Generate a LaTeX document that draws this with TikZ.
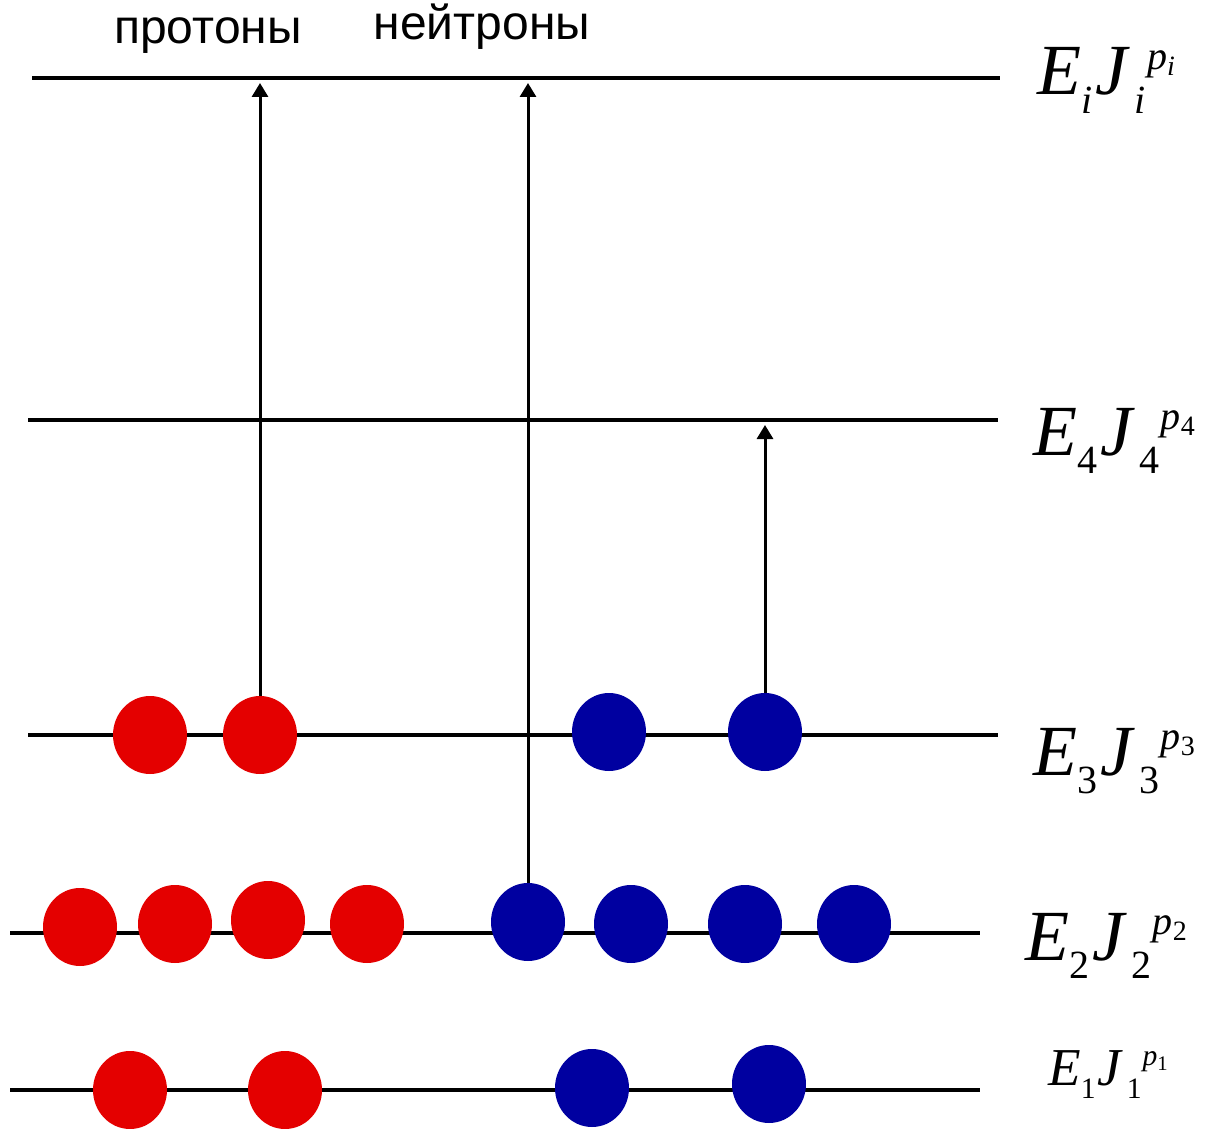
\documentclass[tikz,border=0pt]{standalone}
\usepackage{fontspec}
\setmainfont{Liberation Serif}
\newfontfamily\rusfont{Liberation Sans}
\usepackage{tikz}
\usetikzlibrary{shapes.geometric,arrows.meta}

\definecolor{protred}{RGB}{228,0,0}
\definecolor{neutblue}{RGB}{0,0,160}

% E_n J_n^{p_n}
\newcommand{\lvlname}[1]{%
  {\fontsize{36}{36}\selectfont\itshape E\raisebox{-0.26em}{\fontsize{20}{20}\selectfont #1}\kern0.04em%
  J\kern0.1em\raisebox{-0.26em}{\fontsize{20}{20}\selectfont #1}\kern0.02em%
  \raisebox{0.36em}{\fontsize{20}{20}\selectfont p\raisebox{-0.16em}{\fontsize{14}{14}\selectfont #1}}}}

\begin{document}
\begin{tikzpicture}[x=0.5pt,y=-0.5pt,
	level/.style={line width=2pt},
	jump/.style={line width=1.5pt,-{Triangle[length=7pt,width=8pt]},shorten >=2.5pt},
	nucl/.style={ellipse,minimum width=37pt,minimum height=39pt,inner sep=0pt},
	proton/.style={nucl,fill=protred},
	neutron/.style={nucl,fill=neutblue}]
	\useasboundingbox (0,0) rectangle (1206,1129);
	% levels
	\foreach \n/\xa/\xb/\y in {i/32/1000/78,4/28/998/420,3/28/998/735,2/10/980/933,1/10/980/1090}
	{
		\draw[level] (\xa,\y) coordinate (L\n w) -- (\xb,\y) coordinate (L\n e);
	}
	% protons
	\foreach \n/\x/\y in {p3a/150/735,p3b/260/735,p2a/80/927,p2b/175/924,p2c/268/920,p2d/367/924,p1a/130/1090,p1b/285/1090}
	{
		\node[proton] (\n) at (\x,\y) {};
	}
	% neutrons
	\foreach \n/\x/\y in {n3a/609/732,n3b/765/732,n2a/528/922,n2b/631/924,n2c/745/924,n2d/854/924,n1a/592/1088,n1b/769/1084}
	{
		\node[neutron] (\n) at (\x,\y) {};
	}
	% excitations
	\draw[jump] (p3b.north) -- (p3b.north |- Liw);
	\draw[jump] (n2a.north) -- (n2a.north |- Liw);
	\draw[jump] (n3b.north) -- (n3b.north |- L4w);
	% texts
	\node[anchor=base] (protlab) at (208,44) {\rusfont\fontsize{24}{24}\selectfont протоны};
	\node[anchor=base] (neutlab) at (482,40) {\rusfont\fontsize{24}{24}\selectfont нейтроны};
	\node[anchor=base west,inner sep=0pt] (lvli) at (1037,95) {\lvlname{i}};
	\node[anchor=base west,inner sep=0pt] (lvl4) at (1033,455) {\lvlname{\upshape 4}};
	\node[anchor=base west,inner sep=0pt] (lvl3) at (1033,775) {\lvlname{\upshape 3}};
	\node[anchor=base west,inner sep=0pt] (lvl2) at (1025,960) {\lvlname{\upshape 2}};
	\node[anchor=base west,inner sep=0pt,scale=0.74] (lvl1) at (1048,1085) {\lvlname{\upshape 1}};
\end{tikzpicture}
\end{document}
